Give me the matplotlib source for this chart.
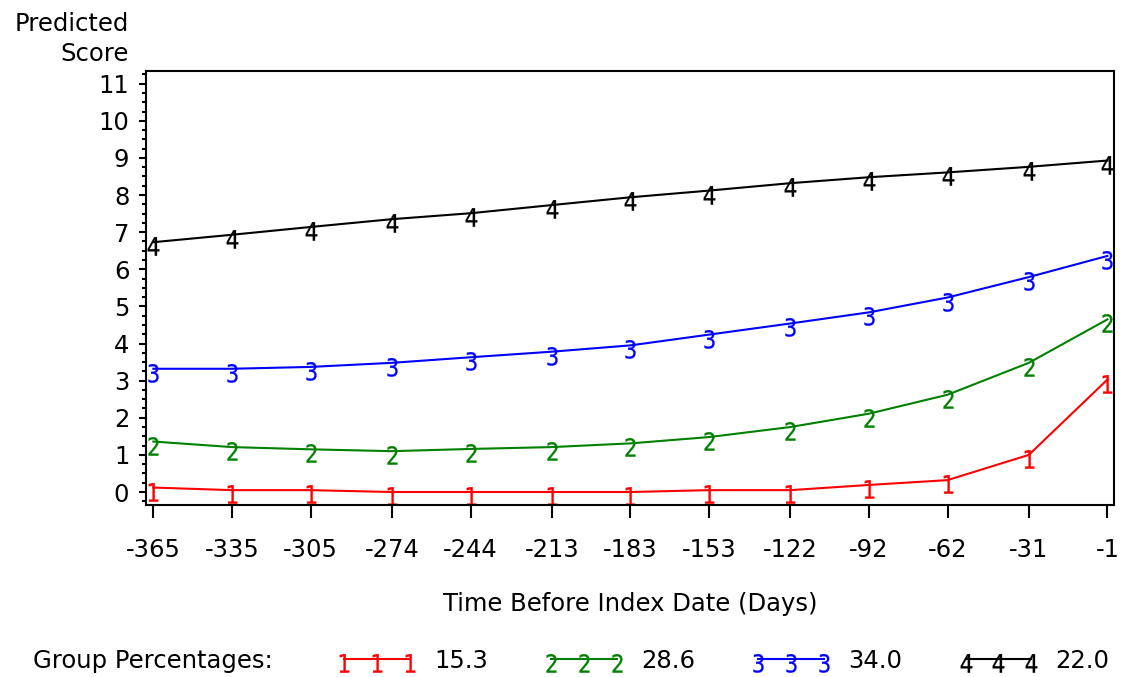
import matplotlib
matplotlib.use("Agg")
import matplotlib.pyplot as plt
import numpy as np
from matplotlib.path import Path
from matplotlib.textpath import TextPath
from matplotlib.font_manager import FontProperties
from matplotlib.ticker import MultipleLocator, FixedLocator

# Days before the index date (x positions and tick labels)
days = [-365, -335, -305, -274, -244, -213, -183, -153, -122, -92, -62, -31, -1]

# Predicted trajectories of each group
group1 = [0.12, 0.05, 0.05, 0.00, 0.00, 0.00, 0.00, 0.05, 0.05, 0.19, 0.32, 1.00, 3.03]
group2 = [1.36, 1.21, 1.15, 1.10, 1.16, 1.21, 1.31, 1.48, 1.75, 2.11, 2.62, 3.48, 4.65]
group3 = [3.32, 3.32, 3.37, 3.48, 3.63, 3.78, 3.95, 4.24, 4.54, 4.84, 5.24, 5.79, 6.36]
group4 = [6.73, 6.93, 7.14, 7.35, 7.51, 7.73, 7.94, 8.12, 8.32, 8.48, 8.61, 8.76, 8.93]

group_symbols = ["1", "2", "3", "4"]
group_pcts = ["15.3", "28.6", "34.0", "22.0"]
group_colors = ["#FF0000", "#008000", "#0000FF", "#000000"]

plt.rcParams["font.family"] = ["DejaVu Sans"]
FS = 17.5


def digit_marker(ch):
    """Narrow digit glyph hanging just below the data point."""
    tp = TextPath((0, 0), ch, size=1, prop=FontProperties(family="DejaVu Sans"))
    v = tp.vertices.copy()
    codes = tp.codes
    real = codes != Path.CLOSEPOLY
    x0, x1 = v[real, 0].min(), v[real, 0].max()
    y0, y1 = v[real, 1].min(), v[real, 1].max()
    s = 19.0 / (y1 - y0)
    v[:, 0] = (v[:, 0] - (x0 + x1) / 2) * s * 0.85
    v[:, 1] = (v[:, 1] - y1) * s + 5.5
    # closing vertices are ignored when drawing; keep them inside the glyph
    for i in np.where(~real)[0]:
        v[i] = v[i - 1]
    return Path(v, codes)


fig = plt.figure(figsize=(11.25, 6.77), dpi=100)
ax = fig.add_axes([146 / 1125, 1 - 505 / 677, (1114 - 146) / 1125, (505 - 70.7) / 677])

series = [group1, group2, group3, group4]
handles = []
for vals, sym, col in zip(series, group_symbols, group_colors):
    h, = ax.plot(days, vals, color=col, lw=1.5,
                 marker=digit_marker(sym), markersize=19,
                 markerfacecolor=col, markeredgecolor=col, markeredgewidth=0.2)
    handles.append(h)

ax.set_xlim(-367.8, 1.5)
ax.set_ylim(-0.35, 11.35)
ax.xaxis.set_major_locator(FixedLocator(days))
ax.set_xticklabels([str(d) for d in days])
ax.yaxis.set_major_locator(MultipleLocator(1))
ax.yaxis.set_minor_locator(MultipleLocator(0.25))

for sp in ax.spines.values():
    sp.set_linewidth(1.5)
ax.tick_params(axis="x", which="major", length=9, width=1.5, pad=14.5, labelsize=FS)
ax.tick_params(axis="y", which="major", length=5, width=1.5, pad=7, labelsize=FS)
ax.tick_params(axis="y", which="minor", length=3, width=1.5)

fig.text(630 / 1125, 1 - 604 / 677, "Time Before Index Date (Days)",
         ha="center", va="center", fontsize=FS)
fig.text(129 / 1125, 1 - 39 / 677, "Predicted\nScore", ha="right", va="center",
         fontsize=FS, linespacing=1.3, multialignment="right")

fig.text(33 / 1125, 1 - 661 / 677, "Group Percentages:", ha="left", va="center",
         fontsize=FS)
fig.legend(handles, group_pcts, ncol=4, numpoints=3, frameon=False,
           loc="center left", bbox_to_anchor=(337 / 1125, 1 - 661 / 677),
           fontsize=FS, handlelength=3.3, handletextpad=0.7,
           columnspacing=2.3, borderpad=0, borderaxespad=0)

fig.savefig("out.png", dpi=100)
